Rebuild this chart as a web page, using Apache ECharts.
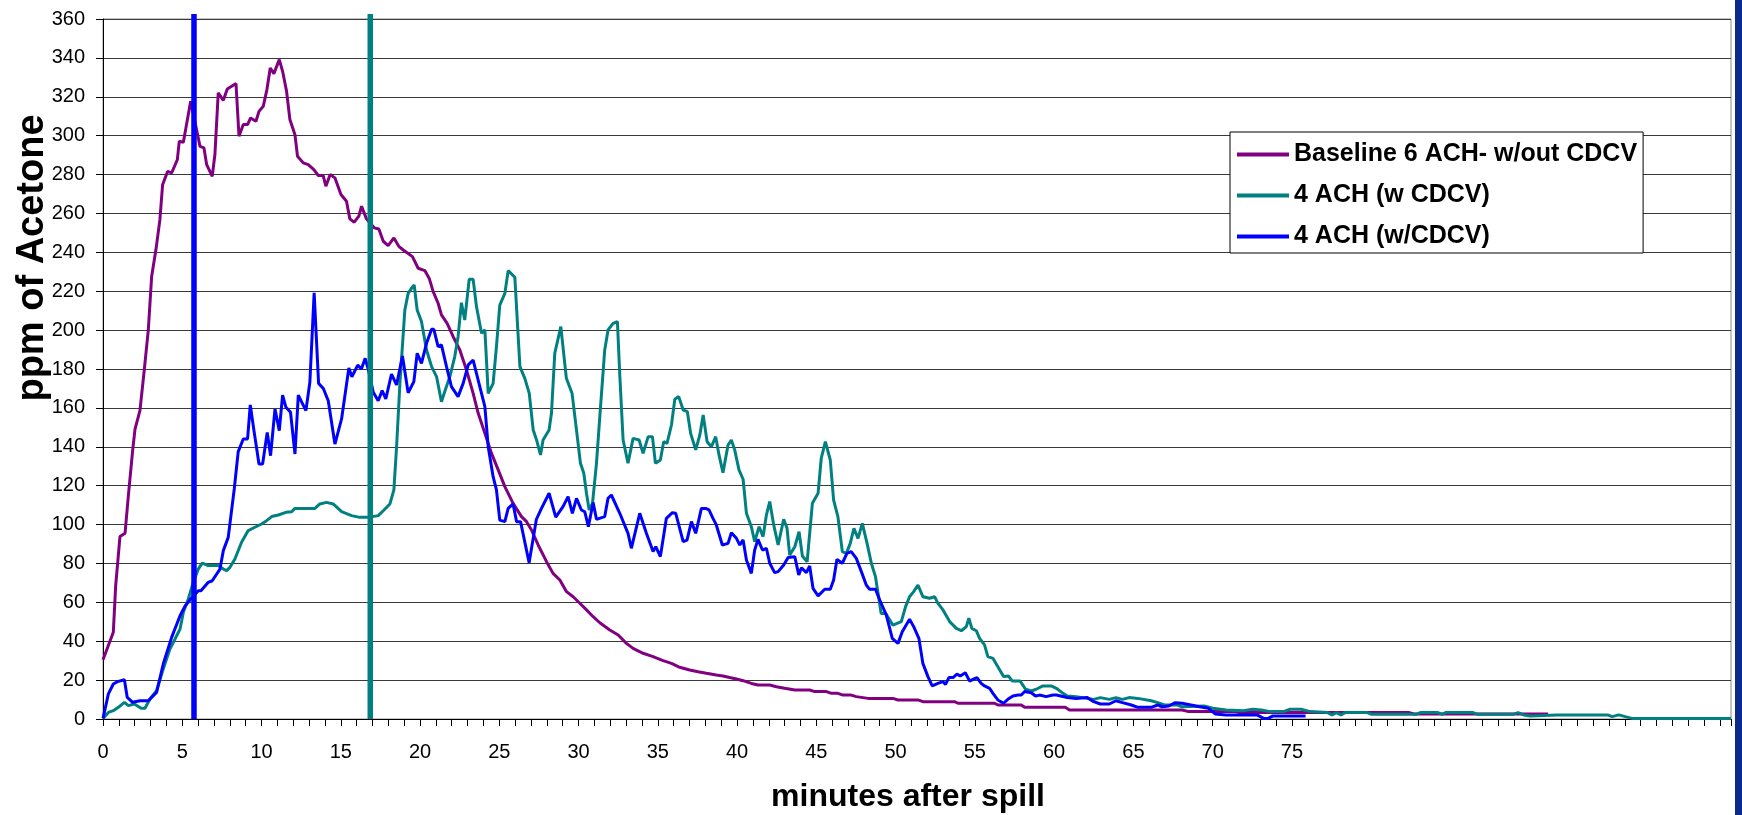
<!DOCTYPE html>
<html>
<head>
<meta charset="utf-8">
<title>ppm of Acetone</title>
<script src="https://cdn.jsdelivr.net/npm/echarts@6/dist/echarts.min.js"></script>
<style>
html, body { margin: 0; padding: 0; background: #fff; }
#chart { width: 1742px; height: 815px; }
</style>
</head>
<body>
<div id="chart"></div>
<script>
// series names, in legend order
var seriesNames = ['Baseline 6 ACH- w/out CDCV', '4 ACH (w CDCV)', '4 ACH (w/CDCV)'];

// x tick labels shown under the axis (minutes)
var xTickLabels = [0, 5, 10, 15, 20, 25, 30, 35, 40, 45, 50, 55, 60, 65, 70, 75];

// [minutes after spill, ppm]
var baselineData = [
  [0,30.5],[0.65,44.6],[0.8,68.6],[1.07,93.8],[1.39,95.5],[1.6,114.9],[1.87,138],[2.02,149.1],[2.33,158.6],[2.61,180],
  [2.86,200.3],[3.07,227.7],[3.34,241.4],[3.59,256.8],[3.76,274.8],[4.08,281.7],[4.33,280.8],[4.69,287.7],[4.81,297.1],[5.07,296.6],
  [5.53,317.7],[6.12,294.5],[6.37,293.7],[6.54,285.1],[6.89,279.1],[7.06,290.3],[7.27,322],[7.59,318.2],[7.84,324],[8.39,326.8],
  [8.58,299.7],[8.85,305.7],[9.12,305.7],[9.31,309.1],[9.65,307.4],[9.84,312.5],[10.11,315.1],[10.34,323.7],[10.55,334.8],[10.78,331.9],
  [11.12,339.1],[11.33,333.1],[11.58,322.8],[11.79,308.3],[12.11,300.5],[12.27,289.4],[12.63,286],[12.95,285.1],[13.3,282.5],[13.58,279.5],
  [13.89,279.5],[14.06,274],[14.33,280],[14.63,278.3],[15.01,269.7],[15.36,266.3],[15.57,257.2],[15.85,255.5],[16.14,258.6],[16.31,263.7],
  [16.62,257.2],[17.11,252.6],[17.4,252],[17.68,245.7],[17.99,243.5],[18.35,247.4],[18.66,243.1],[18.94,241.2],[19.52,237.8],[19.88,231.8],
  [20.3,230.6],[20.58,226.6],[20.83,219.8],[21.14,213.8],[21.35,207.8],[21.71,203.5],[22.09,196.6],[22.51,189.8],[22.93,179.5],[23.35,167.5],
  [23.67,157.2],[24.09,146.9],[24.51,136.6],[24.93,128.1],[25.35,119.5],[25.87,110.9],[26.4,104.1],[26.72,101.5],[27.03,97.2],[27.45,89.5],
  [27.98,80.9],[28.39,74.9],[28.82,71.5],[29.24,65.5],[29.66,62.9],[30.08,59.5],[30.5,56.1],[30.92,52.6],[31.34,49.5],[31.97,45.8],
  [32.5,43.2],[33.02,38.9],[33.44,36.3],[34.07,33.8],[34.7,32.1],[35.33,30],[35.86,28.6],[36.38,26.6],[37.01,25.2],[37.54,24.3],
  [38.06,23.5],[38.69,22.6],[39.11,22.1],[39.53,21.3],[39.96,20.6],[40.38,19.7],[40.9,18.3],[41.32,17.5],[42.06,17.5],[42.48,16.6],
  [43,15.8],[43.64,14.9],[44.58,14.9],[44.9,14.1],[45.64,14.1],[45.95,13.2],[46.36,13.2],[46.68,12.3],[47.2,12.3],[47.52,11.5],
  [48.26,10.6],[49.83,10.6],[50.15,9.8],[51.41,9.8],[51.72,8.9],[53.72,8.9],[53.93,8.1],[56.24,8.1],[56.45,7.2],[57.93,7.2],
  [58.14,6],[60.7,6],[60.97,4.6],[68.07,4.6],[68.49,3.8],[71.41,3.8],[71.69,3.3],[82.4,3.3],[82.7,2.6],[91.16,2.6]
];

var tealData = [
  [0,0.3],[0.34,3.4],[0.65,4.3],[0.97,6],[1.35,8.6],[1.6,6.9],[1.98,7.7],[2.4,5.5],[2.65,5.5],[2.96,10.3],
  [3.38,14.6],[3.8,25.7],[4.22,36],[4.54,41.1],[4.86,46.3],[5.07,54.9],[5.38,61.7],[5.7,70.3],[6.01,77.1],[6.26,80.2],
  [6.64,78.9],[7.27,78.9],[7.59,77.1],[7.8,76.3],[8.01,78],[8.32,82.3],[8.74,90.9],[9.16,96.9],[9.58,98.6],[10,100.3],
  [10.32,102],[10.64,104.1],[11.06,104.9],[11.54,106.3],[11.9,106.6],[12.11,108.3],[13.37,108.3],[13.68,110.6],[14.1,111.4],[14.52,110.6],
  [15.05,106.6],[15.68,104.6],[16.2,103.7],[16.73,103.7],[17.36,104.6],[17.68,107.1],[18.1,110.6],[18.35,117.8],[18.52,140],[18.73,172.6],
  [19.04,210.3],[19.25,218.9],[19.46,221.5],[19.63,223.2],[19.82,210.3],[20.09,204.4],[20.41,189.8],[20.73,181.2],[21.04,176.1],[21.35,163.2],
  [21.56,168.4],[21.88,176.1],[22.19,186.4],[22.4,196.6],[22.61,214.1],[22.82,205.2],[23.1,226.1],[23.35,226.1],[23.56,212.1],[23.88,198.4],
  [24.09,200.1],[24.3,167.5],[24.61,172.6],[24.82,191.5],[25.03,212.9],[25.35,218.9],[25.56,230.6],[25.98,227.2],[26.3,181.2],[26.61,175.2],
  [26.89,167.5],[27.14,148.6],[27.35,143.5],[27.6,135.8],[27.76,143.5],[28.14,148.6],[28.29,157.2],[28.5,188.1],[28.88,201.8],[29.23,175.2],
  [29.59,167.5],[29.87,148.6],[30.12,131.5],[30.33,126.4],[30.5,116.1],[30.67,107.5],[30.88,110.9],[31.13,131.5],[31.34,155.5],[31.65,189.8],
  [31.86,200.1],[32.18,203.5],[32.45,204.4],[32.6,176.9],[32.81,143.5],[33.12,131.5],[33.44,144.3],[33.82,143.5],[34.07,136.6],[34.39,145.2],
  [34.66,145.2],[34.85,131.5],[35.16,133.2],[35.37,142.6],[35.58,141.8],[35.86,151.2],[36.07,164.4],[36.32,165.8],[36.6,158.9],[36.86,158.1],
  [37.07,146.9],[37.39,138.4],[37.65,146.1],[37.86,156.4],[38.11,142.6],[38.38,140],[38.65,145.2],[38.86,135.8],[39.11,126.7],[39.43,140.9],
  [39.64,143.5],[39.85,138.4],[40.12,128.1],[40.38,123.3],[40.59,105.8],[40.9,98.9],[41.11,91.2],[41.39,98.9],[41.64,93.8],[41.85,104.9],
  [42.06,111.8],[42.31,99.8],[42.59,89.5],[42.94,102.7],[43.15,98.1],[43.32,84.3],[43.64,88.6],[43.91,96.3],[44.12,83.8],[44.42,80.9],
  [44.75,110.9],[45.11,116.1],[45.31,134.1],[45.57,142.6],[45.88,133.2],[46.09,112.6],[46.36,104.1],[46.64,86.1],[46.89,85.2],[47.14,90.3],
  [47.37,98.1],[47.63,92.9],[47.9,100.6],[48.2,90.3],[48.47,80.1],[48.73,73.2],[49.09,54.3],[49.37,54.3],[49.83,48.3],[50.36,50.1],
  [50.63,57.8],[50.88,62.9],[51.14,65.5],[51.41,68.9],[51.72,62.9],[52.14,62.1],[52.46,62.9],[52.67,59.5],[52.99,56.1],[53.41,50.1],
  [53.83,46.6],[54.15,45.4],[54.46,47.5],[54.62,51.8],[54.81,46.6],[55.09,45.4],[55.3,41.5],[55.61,38.1],[55.82,32.1],[56.14,31.2],
  [56.45,26.9],[56.81,21.8],[57.13,22.1],[57.36,19.5],[57.86,19.5],[58.2,15.3],[58.56,14.4],[58.87,15.3],[59.29,17],[59.82,17],
  [60.14,15.8],[60.56,13.2],[60.83,11.8],[61.39,11.5],[62.09,10.6],[62.5,10.1],[62.92,11],[63.48,10.1],[63.9,11],[64.31,10.1],
  [64.73,11],[65.29,10.6],[66.12,9.4],[66.54,8.4],[66.96,7.2],[67.79,7.2],[68.07,6.3],[69.46,6.7],[70,5.5],[70.85,4.6],
  [71.96,4.3],[72.52,5],[73.08,4.6],[73.63,3.8],[74.47,3.8],[74.89,5],[75.58,5],[76.14,3.8],[77.25,3.3],[77.53,2.1],
  [77.81,3.3],[78.09,2.1],[78.36,3.3],[79.76,3.3],[80.03,2.4],[82.82,2.4],[83.1,3.3],[84.21,3.3],[84.49,2.4],[84.7,3.3],
  [86.43,3.3],[86.71,2.4],[88.94,2.4],[89.27,3.3],[89.63,2.1],[90.05,1.5],[91.72,2.1],[94.92,2.1],[95.2,1.2],[95.62,2.1],
  [96.03,1.2],[96.45,0.3],[102.7,0.3]
];

var blueData = [
  [0,0.3],[0.34,12.9],[0.65,18],[0.92,19.2],[1.35,20.2],[1.53,11.1],[1.87,8.6],[2.33,9.4],[2.86,9.4],[3.38,13.7],
  [3.8,28.3],[4.33,42],[4.86,53.1],[5.17,58],[5.53,61.7],[6.01,66],[6.18,66],[6.64,70.3],[6.89,71.1],[7.38,77.1],
  [7.59,86.6],[7.9,93.4],[8.28,118.3],[8.53,137.5],[8.85,144],[9.12,144],[9.29,161.5],[9.54,147.4],[9.84,131.1],[10.07,131.1],
  [10.36,147.4],[10.57,135.4],[10.85,159.4],[11.12,148.3],[11.33,166.6],[11.54,160.3],[11.83,157.7],[12.11,136.3],[12.32,166.6],[12.8,158.6],
  [13.05,173.2],[13.32,219.2],[13.6,172.6],[13.9,170],[14.21,163.7],[14.63,141.4],[15.05,154.3],[15.51,180.5],[15.7,176],[16.07,182],
  [16.3,180],[16.54,185.5],[16.73,180],[17.05,168],[17.36,163.7],[17.61,168.9],[17.84,164.6],[18.2,177.4],[18.52,171.8],[18.89,186.7],
  [19.25,167.8],[19.61,173.5],[19.82,188.1],[20.09,182.9],[20.41,193.2],[20.73,200.4],[20.87,200.4],[21.14,191.5],[21.35,192.4],[21.67,181.2],
  [21.98,170.9],[22.4,165.8],[22.72,172.6],[23.04,182.1],[23.35,184.6],[23.77,170.9],[24.09,160.6],[24.3,140],[24.61,124.6],[24.82,117.8],
  [25.03,102.3],[25.35,101.5],[25.56,108.3],[25.87,110.6],[26.09,101.5],[26.34,101.5],[26.88,80.4],[27.34,102.7],[27.66,108.3],[28.14,116.1],
  [28.56,103.8],[29.02,109.2],[29.34,114.4],[29.61,105.8],[29.87,113.5],[30.18,107.5],[30.39,106.6],[30.62,98.9],[30.92,111.3],[31.13,102.7],
  [31.65,104.1],[31.86,113.5],[32.07,115.2],[32.6,105.8],[33.12,95.5],[33.33,87.8],[33.86,105.8],[34.28,95.5],[34.7,86.1],[34.87,88.6],
  [35.16,83.5],[35.54,103.2],[35.92,106.1],[36.13,105.8],[36.6,91.2],[36.84,92],[37.12,101.5],[37.39,95.5],[37.75,108.3],[38.02,108.3],
  [38.23,107.5],[38.48,103.2],[38.69,99.8],[39.07,89.5],[39.43,90.3],[39.64,95.8],[39.96,92.9],[40.17,89.5],[40.38,92.1],[40.59,81.8],
  [40.9,74.9],[41.11,86.9],[41.32,92.4],[41.6,86.9],[41.85,87.8],[42.06,80.1],[42.37,75.3],[42.59,75.8],[42.94,79.2],[43.22,83.1],
  [43.64,83.5],[43.89,74.1],[44.06,77.8],[44.37,75.3],[44.58,78.7],[44.79,67.2],[45.11,63.3],[45.53,66.7],[45.88,66.7],[46.09,71.5],
  [46.3,82.1],[46.64,80.1],[46.93,85.2],[47.2,86.1],[47.52,82.6],[47.84,75.8],[48.15,68.9],[48.36,66.7],[48.73,66.7],[49,61.2],
  [49.41,53.5],[49.79,41.5],[50.15,38.9],[50.42,44.9],[50.88,51.3],[51.14,47.5],[51.47,41.5],[51.72,28.6],[52.04,21.8],[52.31,17],
  [52.67,18.3],[52.99,19.2],[53.15,17.8],[53.36,21.3],[53.62,21.3],[53.87,23.1],[54.08,22.1],[54.4,23.8],[54.67,19.5],[54.88,20.4],
  [55.13,21.3],[55.4,18.3],[55.61,17],[55.93,15.8],[56.14,13.2],[56.45,9.8],[56.81,8.1],[57.08,10.1],[57.4,11.8],[57.72,12.3],
  [57.93,12.3],[58.14,14.1],[58.56,13.5],[58.83,11.8],[59.08,12.3],[59.5,11.5],[59.92,12.3],[60.14,12.3],[60.83,11.1],[61.39,10.6],
  [62.09,11],[62.5,8.9],[62.92,7.7],[63.48,7.7],[63.9,9.4],[64.31,8.4],[64.87,7.2],[65.29,6],[66.12,6],[66.54,7.2],
  [66.82,6.3],[67.23,6.7],[67.65,8.4],[68.07,8.1],[68.63,7.2],[69.18,6.3],[69.74,5.5],[70.16,2.6],[70.85,2.1],[72.8,2.1],
  [73.22,0.3],[73.5,0.3],[73.77,1.5],[75.86,1.5]
];

// the two vertical marker lines (minute, top of line in ppm)
var blueMarker = [[5.74, 0], [5.74, 362.6]];
var tealMarker = [[16.86, 0], [16.86, 362.6]];

var FONT = '"Liberation Sans", Arial, Helvetica, sans-serif';
var PURPLE = '#800080', TEAL = '#008080', BLUE = '#0000ff';

var chart = echarts.init(document.getElementById('chart'), null, { renderer: 'canvas' });

function lineSeries(name, data, color) {
  return {
    name: name,
    type: 'line',
    data: data,
    color: color,
    symbol: 'none',
    silent: true,
    lineStyle: { color: color, width: 3 },
    z: 2
  };
}

function markerSeries(data, color) {
  return {
    name: 'marker',
    type: 'line',
    data: data,
    symbol: 'none',
    silent: true,
    clip: false,
    lineStyle: { color: color, width: 5.5 },
    z: 4
  };
}

var option = {
  animation: false,
  backgroundColor: '#fff',
  grid: {
    left: 103, top: 19, right: 11, bottom: 96,
    show: true, borderColor: '#8c8c8c', borderWidth: 1
  },
  legend: {
    data: seriesNames,
    orient: 'vertical',
    left: 1230, top: 132,
    icon: 'rect',
    itemWidth: 52, itemHeight: 4, itemGap: 16,
    padding: [10, 6, 4, 7],
    backgroundColor: '#fff',
    borderColor: '#000', borderWidth: 1,
    textStyle: { fontSize: 25, fontWeight: 'bold', color: '#000', fontFamily: FONT, lineHeight: 25 }
  },
  xAxis: {
    type: 'value',
    min: 0, max: 102.7, interval: 1,
    axisLine: { lineStyle: { color: '#000', width: 1 } },
    axisTick: { show: true, length: 7, lineStyle: { color: '#000' } },
    axisLabel: {
      fontSize: 20, color: '#000', fontFamily: FONT, margin: 23,
      formatter: function (v) {
        var r = Math.round(v);
        if (Math.abs(v - r) > 1e-6) return '';
        return xTickLabels.indexOf(r) >= 0 ? String(r) : '';
      }
    },
    splitLine: { show: false }
  },
  yAxis: {
    type: 'value',
    min: 0, max: 360, interval: 20,
    axisLine: { show: true, lineStyle: { color: '#000', width: 1 } },
    axisTick: { show: true, length: 7, lineStyle: { color: '#000' } },
    axisLabel: { fontSize: 20, color: '#000', fontFamily: FONT, margin: 18 },
    splitLine: { lineStyle: { color: '#3a3a3a', width: 1 } }
  },
  graphic: [
    {
      type: 'text', x: 33, y: 258, rotation: Math.PI / 2,
      style: { text: 'ppm of Acetone', fontSize: 38, fontWeight: 'bold', fontFamily: FONT, fill: '#000', align: 'center', verticalAlign: 'middle' }
    },
    {
      type: 'text', x: 908, y: 797,
      style: { text: 'minutes after spill', fontSize: 32, fontWeight: 'bold', fontFamily: FONT, fill: '#000', align: 'center', verticalAlign: 'middle' }
    },
    {
      type: 'rect', shape: { x: 1735, y: 0, width: 7, height: 815 },
      style: { fill: '#0b2a8c' }
    }
  ],
  series: [
    lineSeries(seriesNames[0], baselineData, PURPLE),
    lineSeries(seriesNames[1], tealData, TEAL),
    lineSeries(seriesNames[2], blueData, BLUE),
    markerSeries(blueMarker, BLUE),
    markerSeries(tealMarker, TEAL)
  ]
};

chart.setOption(option);
</script>
</body>
</html>
